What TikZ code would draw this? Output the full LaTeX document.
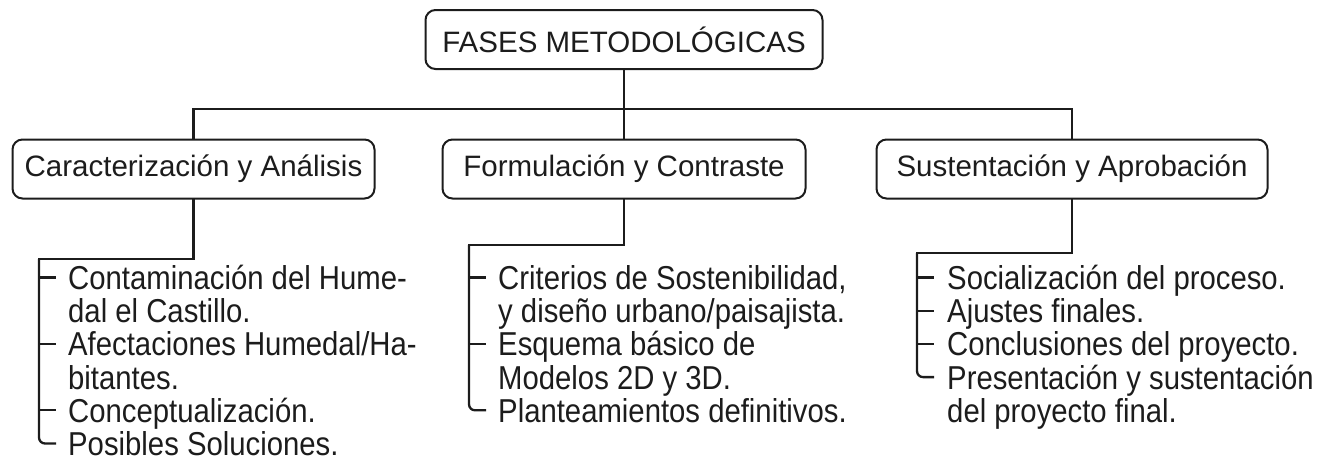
\documentclass[tikz,border=0pt]{standalone}
\usepackage{fontspec}
\usepackage{graphicx}
\setmainfont{Liberation Sans}
\usetikzlibrary{calc}
\definecolor{ink}{RGB}{28,28,28}
\newcommand\mlines[1]{\scalebox{1}[1.13]{\vtop{\baselineskip=29.4pt\lineskiplimit=-100pt\lineskip=0pt\halign{##\hfil\cr #1\crcr}}}}
\begin{document}
\begin{tikzpicture}[x=1pt,y=-1pt,
  box/.style={draw=ink, line width=2pt, rounded corners=10pt, minimum height=59pt,
    inner sep=0pt, text=ink, font=\fontsize{29.5}{34}\selectfont},
  item/.style={anchor=base west, inner sep=0pt, text=ink,
    font=\fontsize{29.3}{29.4}\selectfont},
  conn/.style={draw=ink, line width=2.3pt},
  tick/.style={conn, line cap=butt}]
\useasboundingbox (0,0) rectangle (1337,459);
% boxes
\node[box, minimum width=397pt] (top) at (624,39.5) {FASES METODOLÓGICAS};
\node[box, minimum width=362pt] (b1) at (193.5,169) {Caracterización y Análisis};
\node[box, minimum width=363pt] (b2) at (624,169) {Formulación y Contraste};
\node[box, minimum width=391pt] (b3) at (1072,169) {Sustentación y Aprobación};
\coordinate (bar) at (0,109);
\draw[conn] (top.south) -- (b2.north);
\draw[conn] (b1.north) |- (bar -| b3.north) -- (b3.north);
% group 1
\node[item] (i11) at (68,289.5) {\mlines{Contaminación del Hume-\cr dal el Castillo.}};
\node[item] (i12) at (68,355.9) {\mlines{Afectaciones Humedal/Ha-\cr bitantes.}};
\node[item] (i13) at (68,422.3) {\mlines{Conceptualización.}};
\node[item] (i14) at (68,455.5) {\mlines{Posibles Soluciones.}};
\coordinate (k1) at (39,259);
\draw[conn, line cap=rect] (b1.south) |- (k1);
\draw[conn, rounded corners=6pt] (k1) |- ($(i14.base west)+(-12,-12)$);
\foreach \n in {i11,i12,i13}
  \draw[tick] ($(\n.base west)+(-29,-12)$) -- ++(17,0);
% group 2
\node[item] (i21) at (498,289.5) {\mlines{Criterios de Sostenibilidad,\cr y diseño urbano/paisajista.}};
\node[item] (i22) at (498,355.9) {\mlines{Esquema básico de\cr Modelos 2D y 3D.}};
\node[item] (i23) at (498,422.3) {\mlines{Planteamientos definitivos.}};
\coordinate (k2) at (469,245);
\draw[conn, line cap=rect] (b2.south) |- (k2);
\draw[conn, rounded corners=6pt] (k2) |- ($(i23.base west)+(-12,-12)$);
\foreach \n in {i21,i22}
  \draw[tick] ($(\n.base west)+(-29,-12)$) -- ++(17,0);
% group 3
\node[item] (i31) at (947,289.5) {\mlines{Socialización del proceso.}};
\node[item] (i32) at (947,322.7) {\mlines{Ajustes finales.}};
\node[item] (i33) at (947,355.9) {\mlines{Conclusiones del proyecto.}};
\node[item] (i34) at (947,389.1) {\mlines{Presentación y sustentación\cr del proyecto final.}};
\coordinate (k3) at (917,253);
\draw[conn, line cap=rect] (b3.south) |- (k3);
\draw[conn, rounded corners=6pt] (k3) |- ($(i34.base west)+(-13,-12)$);
\foreach \n in {i31,i32,i33}
  \draw[tick] ($(\n.base west)+(-30,-12)$) -- ++(17,0);
\end{tikzpicture}
\end{document}
